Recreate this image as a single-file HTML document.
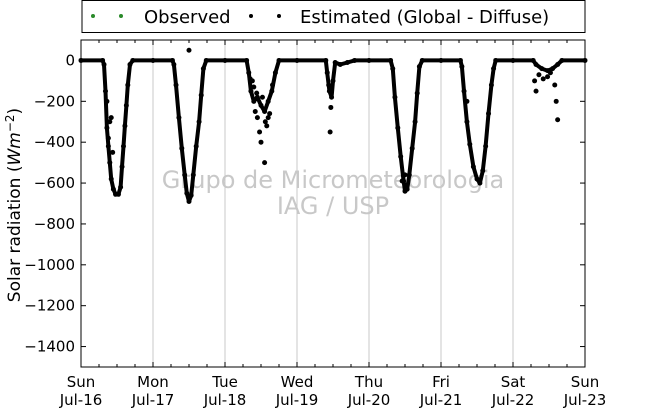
<!DOCTYPE html>
<html><head><meta charset="utf-8"><style>
body{margin:0;background:#fff;}
svg text{font-family:"DejaVu Sans","Liberation Sans",sans-serif;}
</style></head><body>
<svg id="c" width="650" height="409" xmlns="http://www.w3.org/2000/svg"></svg>
<script>
const dayLabels=["Sun","Mon","Tue","Wed","Thu","Fri","Sat","Sun"];
const dateLabels=["Jul-16","Jul-17","Jul-18","Jul-19","Jul-20","Jul-21","Jul-22","Jul-23"];
const yTicks=[0,-200,-400,-600,-800,-1000,-1200,-1400];
const curveDays=[0,0.30,0.32,0.34,0.36,0.38,0.40,0.42,0.45,0.48,0.52,0.55,0.57,0.59,0.61,0.63,0.65,0.68,0.72,
1.0,1.27,1.29,1.32,1.36,1.40,1.44,1.47,1.50,1.53,1.56,1.60,1.64,1.67,1.70,1.74,
2.0,2.30,2.33,2.36,2.40,2.45,2.50,2.55,2.60,2.65,2.70,2.75,
3.0,3.40,3.42,3.45,3.48,3.50,3.53,3.60,3.70,3.80,
4.0,4.30,4.33,4.36,4.40,4.44,4.48,4.50,4.53,4.56,4.60,4.64,4.67,4.70,4.74,
5.0,5.27,5.29,5.32,5.36,5.40,5.45,5.50,5.54,5.58,5.62,5.66,5.70,5.73,5.76,
6.0,6.28,6.32,6.40,6.48,6.55,6.62,6.68,7.0];
const curveVals=[0,0,-20,-150,-330,-420,-500,-580,-630,-655,-655,-620,-520,-420,-320,-220,-120,-20,0,
0,0,-20,-120,-280,-430,-560,-650,-690,-660,-560,-420,-300,-170,-40,0,
0,0,-60,-150,-200,-180,-220,-250,-200,-150,-60,0,
0,0,-60,-150,-180,-100,-10,-20,-10,0,
0,0,-40,-180,-330,-470,-590,-640,-630,-560,-430,-300,-160,-30,0,
0,0,-30,-150,-300,-410,-520,-580,-600,-540,-420,-260,-120,-40,0,
0,0,-20,-40,-50,-40,-20,0,0];
const outlierDays=[0.36,0.42,0.44,0.38,0.40,1.50,2.38,2.40,2.42,2.45,2.50,2.55,2.58,2.62,2.48,2.52,2.66,2.44,2.56,2.60,2.35,3.46,3.47,3.44,4.46,4.52,4.50,5.36,6.30,6.32,6.60,6.62,6.58,6.48,6.52,6.36,6.42];
const outlierVals=[-200,-280,-450,-380,-300,50,-100,-130,-250,-280,-400,-500,-320,-260,-350,-180,-120,-160,-300,-280,-90,-350,-230,-120,-590,-610,-560,-200,-100,-150,-200,-290,-120,-80,-60,-70,-90];

const svg=document.getElementById('c');const NS="http://www.w3.org/2000/svg";
const L=81,R=585,T=40,B=367,ymin=-1500,ymax=100;
const xs=d=>L+(R-L)*d/7, ys=v=>T+(B-T)*(ymax-v)/(ymax-ymin);
function mk(t,a,p){const e=document.createElementNS(NS,t);for(const k in a)e.setAttribute(k,a[k]);(p||svg).appendChild(e);return e;}
for(let i=1;i<7;i++){const g=mk('line',{x1:xs(i),x2:xs(i),y1:T,y2:B,stroke:'#c8c8c8','stroke-width':1});

}
const w1=mk('text',{x:333,y:188,'text-anchor':'middle','font-size':24,fill:'#c8c8c8'});w1.textContent='Grupo de Micrometeorologia';


const w2=mk('text',{x:333,y:214,'text-anchor':'middle','font-size':24,fill:'#c8c8c8'});w2.textContent='IAG / USP';


const pts=curveDays.map((d,i)=>xs(d).toFixed(1)+','+ys(curveVals[i]).toFixed(1)).join(' ');
const pl=mk('polyline',{points:pts,fill:'none',stroke:'#000','stroke-width':4,'stroke-linejoin':'round'});


curveDays.forEach((d,i)=>{const c=mk('circle',{cx:xs(d),cy:ys(curveVals[i]),r:2.5,fill:'#000'});

});
outlierDays.forEach((d,i)=>{const c=mk('circle',{cx:xs(d),cy:ys(outlierVals[i]),r:2.5,fill:'#000'});

});
const fr=mk('rect',{x:L,y:T,width:R-L,height:B-T,fill:'none',stroke:'#000','stroke-width':1});


yTicks.forEach(v=>{const y=ys(v);
mk('line',{x1:L,x2:L+5,y1:y,y2:y,stroke:'#000'});mk('line',{x1:R,x2:R-5,y1:y,y2:y,stroke:'#000'});
const t=mk('text',{x:L-6,y:y+5,'text-anchor':'end','font-size':15});t.textContent=String(v).replace('-','−');

});
for(let q=0;q<=28;q++){const x=xs(q/4),len=q%4?3:5;
mk('line',{x1:x,x2:x,y1:B,y2:B-len,stroke:'#000'});mk('line',{x1:x,x2:x,y1:T,y2:T+len,stroke:'#000'});}
dayLabels.forEach((s,i)=>{const t=mk('text',{x:xs(i),y:387,'text-anchor':'middle','font-size':15});t.textContent=s;


const t2=mk('text',{x:xs(i),y:405,'text-anchor':'middle','font-size':15});t2.textContent=dateLabels[i];

});
const yt=mk('text',{transform:'translate(20,205) rotate(-90)','text-anchor':'middle','font-size':17});
yt.innerHTML='Solar radiation (<tspan font-style="italic">Wm</tspan><tspan dy="-6" font-size="12">−2</tspan><tspan dy="6">)</tspan>';


const lg=mk('g',{});
mk('rect',{x:82,y:0.5,width:503,height:32,fill:'#fff',stroke:'#000'},lg);
[93,121].forEach(x=>mk('circle',{cx:x,cy:16,r:2,fill:'#2a8a2a'},lg));
[251,279].forEach(x=>mk('circle',{cx:x,cy:16,r:2,fill:'#000'},lg));
const l1=mk('text',{x:144,y:23,'font-size':18},lg);l1.textContent='Observed';


const l2=mk('text',{x:300,y:23,'font-size':18},lg);l2.textContent='Estimated (Global - Diffuse)';


</script>
</body></html>
